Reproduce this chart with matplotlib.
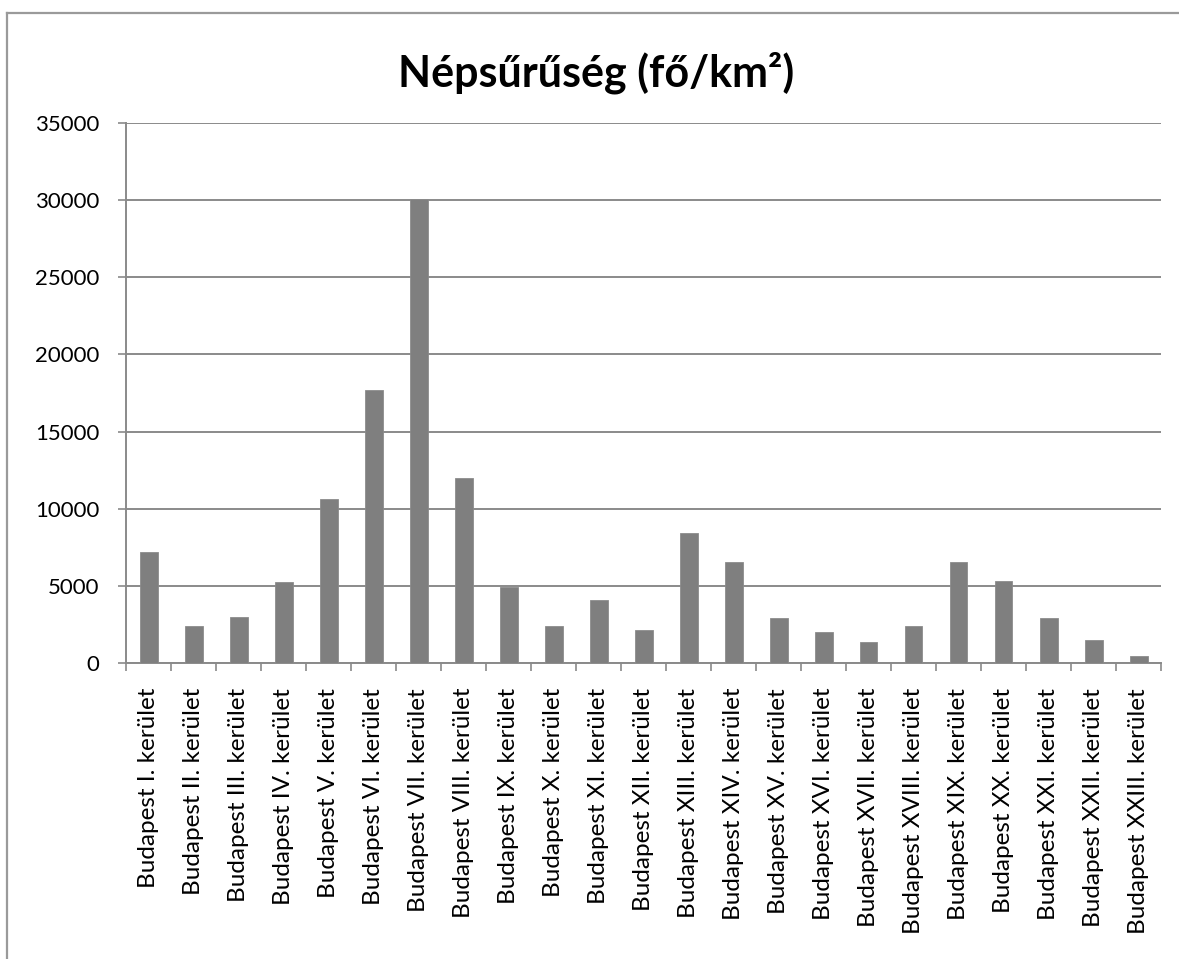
import matplotlib
matplotlib.use("Agg")
import matplotlib.pyplot as plt
from matplotlib.lines import Line2D
import numpy as np

plt.rcParams['font.family'] = ['Lato', 'DejaVu Sans']

districts = ['I.', 'II.', 'III.', 'IV.', 'V.', 'VI.', 'VII.', 'VIII.', 'IX.', 'X.',
             'XI.', 'XII.', 'XIII.', 'XIV.', 'XV.', 'XVI.', 'XVII.', 'XVIII.', 'XIX.',
             'XX.', 'XXI.', 'XXII.', 'XXIII.']
labels = ['Budapest {} kerület'.format(d) for d in districts]
density = [7200, 2400, 3000, 5250, 10600, 17700, 30100, 12000, 4950, 2400,
           4100, 2150, 8400, 6550, 2900, 2000, 1350, 2400, 6550, 5300,
           2900, 1500, 450]
yticks = [0, 5000, 10000, 15000, 20000, 25000, 30000, 35000]

W, H = 1179, 959
fig = plt.figure(figsize=(W / 100, H / 100), dpi=100)
ax = fig.add_axes([126 / W, 1 - 663 / H, (1161 - 126) / W, (663 - 123) / H])

grid_col = '#8a8a8a'
x = np.arange(len(density))
ax.bar(x, density, width=0.4, color='#7f7f7f', edgecolor='#8c8c8c', linewidth=0.6, zorder=3)

ax.set_xlim(-0.5, len(density) - 0.5)
ax.set_ylim(0, 35000)
ax.set_yticks(yticks)
ax.set_yticklabels([str(v) for v in yticks])
ax.yaxis.grid(True, color=grid_col, linewidth=1.4, zorder=0)

# labels at bar centres, tick marks at the category boundaries
ax.set_xticks(x)
ax.set_xticklabels(labels, rotation=90, va='top', ha='center')
ax.set_xticks(np.arange(-0.5, len(density)), minor=True)
ax.tick_params(axis='x', which='major', length=0, pad=18, labelsize=17.5, colors='black')
ax.tick_params(axis='x', which='minor', length=6, width=1.2, color=grid_col, direction='out')
ax.tick_params(axis='y', length=6, width=1.2, color=grid_col, direction='out', pad=13,
               labelsize=16)

for s in ['top', 'right']:
    ax.spines[s].set_visible(False)
for s in ['left', 'bottom']:
    ax.spines[s].set_color(grid_col)
    ax.spines[s].set_linewidth(1.4)

fig.text(596 / W, 1 - 73 / H, 'Népsűrűség (fő/km²)', ha='center', va='center',
         fontsize=31, fontweight='bold')

# outer chart frame (runs off the right and bottom edges)
border = '#9a9a9a'
fig.add_artist(Line2D([7 / W, 1.0], [1 - 13 / H, 1 - 13 / H], color=border, linewidth=1.6))
fig.add_artist(Line2D([7 / W, 7 / W], [0.0, 1 - 13 / H], color=border, linewidth=1.6))

fig.savefig('out.png', dpi=100)
